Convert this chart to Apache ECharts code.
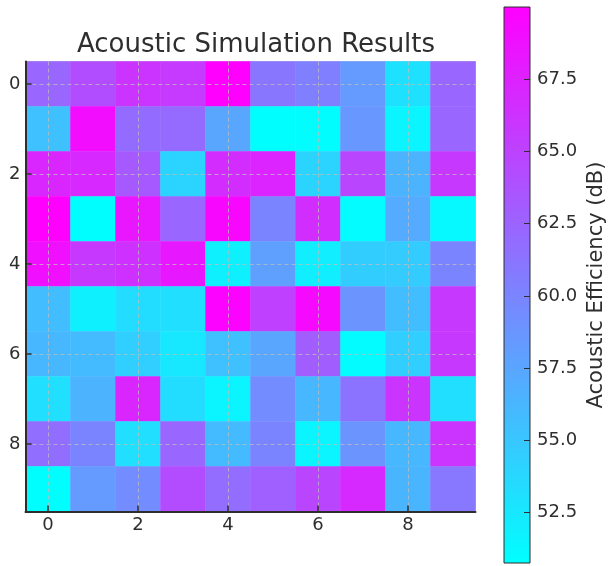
<!DOCTYPE html>
<html>
<head>
<meta charset="utf-8">
<script src="https://cdn.jsdelivr.net/npm/echarts@6/dist/echarts.min.js"></script>
<style>html,body{margin:0;padding:0;background:#fff}#c{width:608px;height:566px}</style>
</head>
<body>
<div id="c"></div>
<script>
const title = 'Acoustic Simulation Results';
const colorbarLabel = 'Acoustic Efficiency (dB)';
const xCategories = [0, 1, 2, 3, 4, 5, 6, 7, 8, 9];
const yCategories = [0, 1, 2, 3, 4, 5, 6, 7, 8, 9];
const axisTickValues = [0, 2, 4, 6, 8];
const colorbarTicks = [52.5, 55.0, 57.5, 60.0, 62.5, 65.0, 67.5];
const colorMin = 50.75;
const colorMax = 70.0;
const colorStops = ['#00ffff', '#ff00ff'];

const row0 = [62.3, 64.2, 66.1, 65.7, 70.0, 61.1, 60.4, 58.4, 53.0, 62.3];
const row1 = [55.5, 69.0, 61.9, 62.0, 57.5, 50.8, 50.9, 58.6, 51.5, 62.3];
const row2 = [67.1, 67.0, 63.3, 54.0, 66.7, 67.3, 54.0, 64.8, 56.5, 65.8];
const row3 = [70.0, 50.8, 68.3, 62.3, 69.5, 60.0, 66.6, 51.0, 57.1, 51.2];
const row4 = [68.9, 65.8, 66.3, 68.2, 51.9, 57.9, 52.0, 54.5, 54.7, 60.0];
const row5 = [55.7, 51.9, 53.3, 53.2, 69.8, 65.2, 69.3, 58.8, 55.7, 65.8];
const row6 = [56.1, 55.9, 54.4, 52.5, 55.5, 57.5, 63.0, 51.0, 54.4, 65.8];
const row7 = [53.2, 56.5, 67.1, 53.3, 51.5, 59.4, 56.1, 61.3, 66.1, 53.2];
const row8 = [61.7, 60.0, 53.2, 62.3, 55.9, 60.0, 51.5, 58.8, 56.1, 66.1];
const row9 = [50.8, 58.4, 59.4, 64.3, 61.8, 62.8, 64.8, 66.9, 56.3, 61.0];
const rows = [row0, row1, row2, row3, row4, row5, row6, row7, row8, row9];

const heatData = [];
rows.forEach((r, i) => r.forEach((v, j) => heatData.push([j, i, v])));

const font = 'DejaVu Sans';
const dark = '#2e2e2e';
const gridLine = {show: true, lineStyle: {color: 'rgba(190,190,190,0.75)', type: [4, 3], width: 1}};
const colorbarFill = new echarts.graphic.LinearGradient(0, 1, 0, 0, [
  {offset: 0, color: colorStops[0]},
  {offset: 1, color: colorStops[1]}
]);
const chart = echarts.init(document.getElementById('c'), null, {renderer: 'canvas'});
chart.setOption({
  animation: false,
  backgroundColor: '#ffffff',
  textStyle: {fontFamily: font},
  title: {
    text: title, left: 251, top: 27, textAlign: 'center',
    textStyle: {fontFamily: font, fontSize: 26, fontWeight: 'normal', color: dark}
  },
  grid: [
    {left: 25.5, top: 61.5, width: 450, height: 450, containLabel: false},
    {left: 504, top: 7, width: 28, height: 556, containLabel: false,
     show: true, backgroundColor: colorbarFill, borderColor: dark, borderWidth: 1}
  ],
  xAxis: [
    {type: 'category', gridIndex: 0, data: xCategories, position: 'top',
     axisLine: {show: true, onZero: false, lineStyle: {color: '#d0d0d0', width: 1}},
     axisTick: {show: false}, axisLabel: {show: false}, splitLine: {show: false}},
    {type: 'value', gridIndex: 0, min: -0.5, max: 9.5, position: 'bottom', z: 5,
     axisLine: {show: true, onZero: false, lineStyle: {color: dark, width: 2}},
     axisTick: {show: true, inside: true, customValues: axisTickValues, length: 6, lineStyle: {color: dark, width: 1.5}},
     axisLabel: {customValues: axisTickValues, fontFamily: font, fontSize: 18, color: dark, margin: 5},
     splitLine: gridLine},
    {type: 'value', gridIndex: 1, min: 0, max: 1, show: false, axisLine: {onZero: false}}
  ],
  yAxis: [
    {type: 'category', gridIndex: 0, data: yCategories, inverse: true, position: 'right',
     axisLine: {show: true, onZero: false, lineStyle: {color: '#d0d0d0', width: 1}},
     axisTick: {show: false}, axisLabel: {show: false}, splitLine: {show: false}},
    {type: 'value', gridIndex: 0, min: -0.5, max: 9.5, inverse: true, position: 'left', z: 5,
     axisLine: {show: true, onZero: false, lineStyle: {color: dark, width: 2}},
     axisTick: {show: true, inside: true, customValues: axisTickValues, length: 6, lineStyle: {color: dark, width: 1.5}},
     axisLabel: {customValues: axisTickValues, fontFamily: font, fontSize: 18, color: dark, margin: 5},
     splitLine: gridLine},
    {type: 'value', gridIndex: 1, min: colorMin, max: colorMax, position: 'right', z: 5,
     name: colorbarLabel, nameLocation: 'middle', nameRotate: 90, nameGap: 56,
     nameTextStyle: {fontFamily: font, fontSize: 21, color: dark},
     axisLine: {show: false, onZero: false},
     axisTick: {show: true, inside: true, customValues: colorbarTicks, length: 6, lineStyle: {color: dark, width: 1}},
     axisLabel: {customValues: colorbarTicks, formatter: v => v.toFixed(1), fontFamily: font, fontSize: 18, color: dark, margin: 7},
     splitLine: {show: false}}
  ],
  visualMap: {
    type: 'continuous', min: colorMin, max: colorMax, seriesIndex: 0,
    show: false, inRange: {color: colorStops}
  },
  series: [{
    type: 'heatmap', xAxisIndex: 0, yAxisIndex: 0, data: heatData,
    itemStyle: {borderWidth: 0}, emphasis: {disabled: true}
  }]
});
</script>
</body>
</html>
